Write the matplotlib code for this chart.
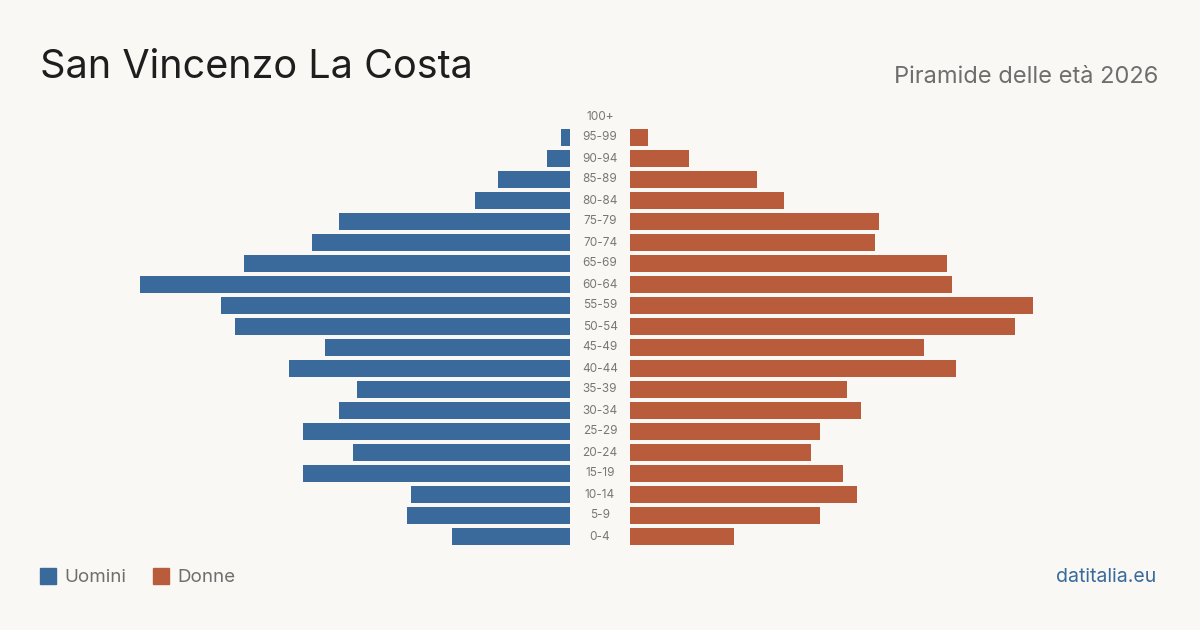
import matplotlib
matplotlib.use("Agg")
import matplotlib.pyplot as plt
from matplotlib.transforms import blended_transform_factory
from matplotlib.patches import Rectangle

age_groups = ["0-4", "5-9", "10-14", "15-19", "20-24", "25-29", "30-34", "35-39",
              "40-44", "45-49", "50-54", "55-59", "60-64", "65-69", "70-74",
              "75-79", "80-84", "85-89", "90-94", "95-99", "100+"]
uomini = [26, 36, 35, 59, 48, 59, 51, 47, 62, 54, 74, 77, 95, 72, 57, 51, 21, 16, 5, 2, 0]
donne = [23, 42, 50, 47, 40, 42, 51, 48, 72, 65, 85, 89, 71, 70, 54, 55, 34, 28, 13, 4, 0]

title = "San Vincenzo La Costa"
subtitle = "Piramide delle età 2026"
source = "datitalia.eu"

BG = "#f9f8f4"
BLUE = "#3a6a9c"
ORANGE = "#b95c3c"
FONT = ["Inter", "DejaVu Sans"]
plt.rcParams["font.family"] = FONT

W, H = 1200, 630
fig = plt.figure(figsize=(12, 6.3), dpi=100, facecolor=BG)

px_per_unit = 4.53
half_w = 470
y_top, y_bot = 106, 547
bottom = (H - y_bot) / H
height = (y_bot - y_top) / H

ax_l = fig.add_axes([(570 - half_w) / W, bottom, half_w / W, height])
ax_r = fig.add_axes([630 / W, bottom, half_w / W, height])

ypos = list(range(len(age_groups)))
for ax in (ax_l, ax_r):
    ax.set_facecolor("none")
    ax.set_ylim(-0.5, len(age_groups) - 0.5)
    ax.axis("off")

ax_l.barh(ypos, uomini, height=0.8, color=BLUE)
ax_l.set_xlim(half_w / px_per_unit, 0)
ax_r.barh(ypos, donne, height=0.8, color=ORANGE)
ax_r.set_xlim(0, half_w / px_per_unit)

tr = blended_transform_factory(fig.transFigure, ax_l.transData)
for y, lab in zip(ypos, age_groups):
    fig.text(600 / W, y, lab, transform=tr, ha="center", va="center",
             fontsize=8.5, color="#777777")

fig.text(40 / W, 1 - 67 / H, title, fontsize=28.5, color="#1e1e1e",
         ha="left", va="center")
fig.text(1158 / W, 1 - 77 / H, subtitle, fontsize=17, color="#6e6e6e",
         ha="right", va="center")

# legend
fig.patches.append(Rectangle((40 / W, 1 - 584 / H), 16 / W, 16 / H,
                             transform=fig.transFigure, color=BLUE))
fig.text(64 / W, 1 - 577 / H, "Uomini", fontsize=13.5, color="#6e6e6e",
         ha="left", va="center")
fig.patches.append(Rectangle((153 / W, 1 - 584 / H), 16 / W, 16 / H,
                             transform=fig.transFigure, color=ORANGE))
fig.text(177 / W, 1 - 577 / H, "Donne", fontsize=13.5, color="#6e6e6e",
         ha="left", va="center")

fig.text(1156 / W, 1 - 577 / H, source, fontsize=14, color=BLUE,
         ha="right", va="center")

fig.savefig("out.png", dpi=100, facecolor=BG)
